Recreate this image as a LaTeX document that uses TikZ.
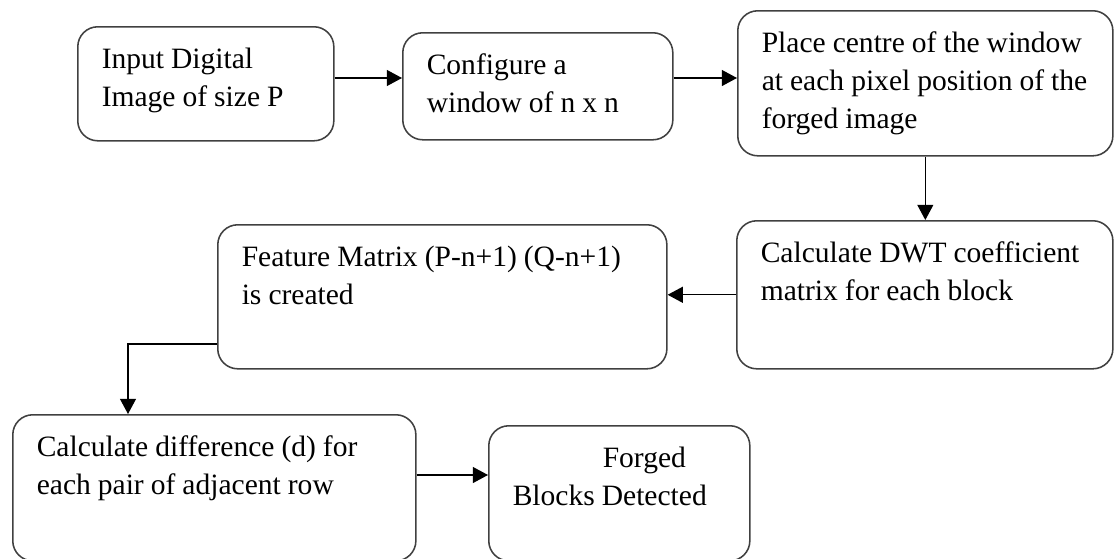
\documentclass[tikz,border=0pt]{standalone}
\usepackage{fontspec}
\setmainfont{Liberation Serif}
\usetikzlibrary{%
	arrows.meta,%
	positioning
}
\definecolor{boxgray}{rgb}{0.25, 0.25, 0.25}
\hyphenpenalty=10000

\begin{document}
\begin{tikzpicture}[x=0.025cm,y=-0.025cm,
				flowbox/.style={draw=boxgray,line width=1.1pt,rounded corners=0.5cm,
					anchor=north west,align=left,inner xsep=0.6cm,inner ysep=0.4cm,
					text height=0.65cm,font=\fontsize{21pt}{27pt}\selectfont,
					execute at begin node={\spaceskip=5pt plus 1pt minus 1.2pt}},
				flow/.style={line width=0.9pt,-{Triangle[length=0.38cm,width=0.4cm]}}
			]
			\useasboundingbox (0,0) rectangle (1114,559);
			% Steps of the method
			\node[flowbox,text width=5.2cm,text depth=1.4cm] (input) at (77,26)
				{Input Digital\\Image of size P};
			\node[flowbox,text width=5.55cm,text depth=1.225cm] (window) at (402,32)
				{Configure a\\window of n x n};
			\node[flowbox,text width=8.175cm,text depth=2.175cm] (centre) at (737,10)
				{Place centre of the window\\at each pixel position of the\\forged image};
			\node[flowbox,text width=8.2cm,text depth=2.25cm] (dwt) at (736,220)
				{Calculate DWT coefficient\\matrix for each block};
			\node[flowbox,text width=10.025cm,text depth=2.15cm] (feature) at (217,224)
				{Feature Matrix (P-n+1) (Q-n+1)\\is created};
			\node[flowbox,text width=8.875cm,text depth=2.2cm] (diff) at (12,414)
				{Calculate difference (d) for\\each pair of adjacent row};
			\node[flowbox,text width=5.325cm,text depth=1.925cm] (forged) at (488,425)
				{\hspace*{2.25cm}Forged\\Blocks Detected};
			
			% Levels of the connectors
			\coordinate (toprow) at (0,78);
			\coordinate (bend) at (128,344);
			\coordinate (lowrow) at (0,475);
			
			% Connectors
			\draw[flow] (input.east |- toprow) -- (window.west |- toprow);
			\draw[flow] (window.east |- toprow) -- (centre.west |- toprow);
			\draw[flow] (centre.south) -- (centre.south |- dwt.north);
			\draw[flow] (dwt.west) -- (dwt.west -| feature.east);
			\draw[flow] (feature.west |- bend) -- (bend) -- (bend |- diff.north);
			\draw[flow] (diff.east |- lowrow) -- (forged.west |- lowrow);
		\end{tikzpicture}
\end{document}
